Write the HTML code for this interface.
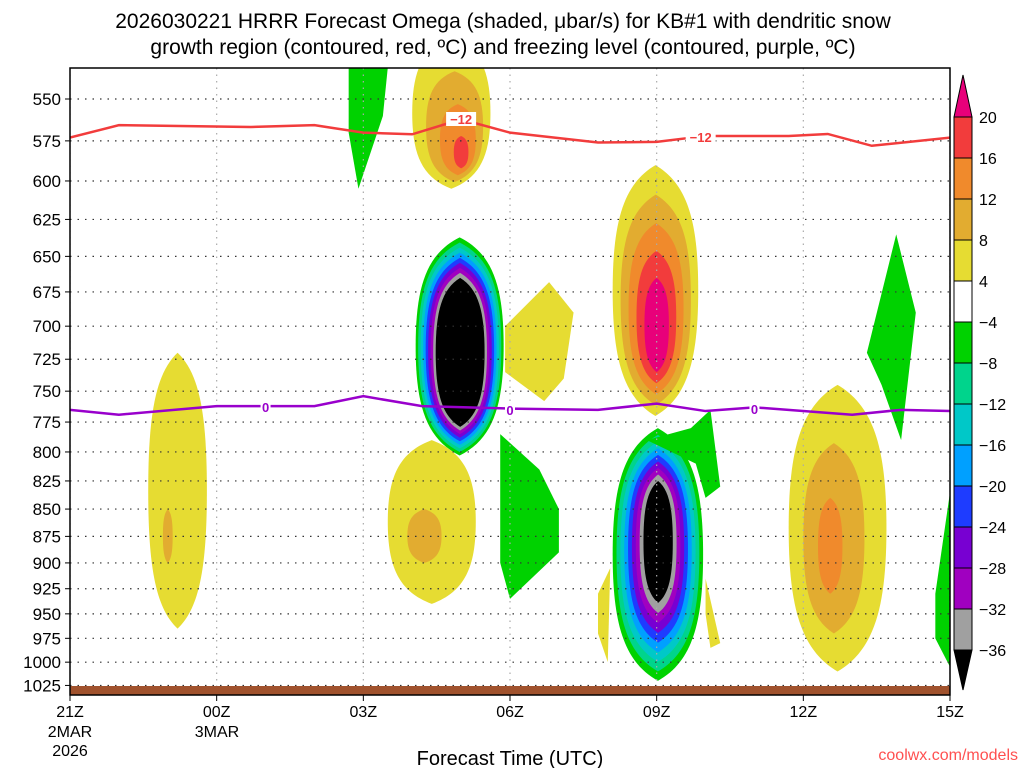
<!DOCTYPE html>
<html><head><meta charset="utf-8"><style>
body{margin:0;background:#fff;}
svg{display:block;font-family:"Liberation Sans",sans-serif;}
</style></head><body>
<svg id="c" width="1024" height="768" xmlns="http://www.w3.org/2000/svg"></svg>
<script>
// ---- data ----
const pressureTicks=[550,575,600,625,650,675,700,725,750,775,800,825,850,875,900,925,950,975,1000,1025];
const hourTicks=[0,3,6,9,12,15,18];
const hourLabels=["21Z","00Z","03Z","06Z","09Z","12Z","15Z"];
const cbLevels=["20","16","12","8","4","-4","-8","-12","-16","-20","-24","-28","-32","-36"];
const cbColors=["#f23c3c","#f08a2c","#e2ac30","#e6dc32","#ffffff","#00d200","#00d48c","#00c8c8","#00a0ff","#1e3cff","#7800d2","#a000c0","#a0a0a0"];
const negColors=["#00d200","#00d48c","#00c8c8","#00a0ff","#1e3cff","#7800d2","#a000c0","#a0a0a0","#000000"];
const posColors=["#e6dc32","#e2ac30","#f08a2c","#f23c3c","#e8007a"];
// nested features: outer [h0,h1,p0,p1], inner [h0,h1,p0,p1], sign, number of levels
const featOuter=[[7.07,8.87,637,803],[11.1,12.95,780,1020],[7.0,8.6,515,605],[11.1,12.85,590,770],[1.6,2.8,720,965],[6.5,8.3,790,940],[14.7,16.7,745,1010]];
const featInner=[[7.48,8.48,665,779],[11.73,12.33,825,939],[7.85,8.15,572,592],[11.75,12.25,665,735],[1.9,2.1,850,900],[6.9,7.6,850,900],[15.3,15.8,840,930]];
const featSign=[-1,-1,1,1,1,1,1];
const featLevels=[9,9,4,5,2,2,3];
// irregular polygons [h,p]
const polyPts=[
 [[8.8,785],[9.6,815],[10.0,850],[10.0,890],[9.0,935],[8.8,900],[8.8,840]],
 [[11.8,790],[12.7,780],[13.1,765],[13.3,830],[13.0,840],[12.8,810]],
 [[5.7,532],[6.5,532],[6.4,560],[5.9,605],[5.7,570]],
 [[16.3,720],[16.9,635],[17.3,690],[17.0,790],[16.6,745]],
 [[17.7,930],[18.0,835],[18.0,1005],[17.7,975]],
 [[8.9,700],[9.8,668],[10.3,690],[10.1,740],[9.7,758],[8.9,735]],
 [[10.8,930],[11.05,905],[11.0,1000],[10.8,970]],
 [[13.0,915],[13.3,980],[13.1,985],[13.0,950]]
];
const polyColor=["#00d200","#00d200","#00d200","#00d200","#00d200","#e6dc32","#e6dc32","#e6dc32"];
const redHours=[0,1,3.7,5,6,7,8,9,10.8,12,13,14.7,15.5,16.4,18];
const redP=[573,565.5,566.6,565.5,570,571,562,570,576,575.6,572,572,570.8,578,573];
const purpHours=[0,1,3,5,6,7.2,9,10.8,12,13,14,16,17,18];
const purpP=[765,769,762,762,754,762,764,765,760,766,763,769,765,766];
// ---- axes ----
const X0=70,X1=950,Y0=68,Y1=695;
const xs=h=>X0+h*(X1-X0)/18;
const ys=p=>99+942*Math.log(p/550);
const svg=document.getElementById('c');
const NS="http://www.w3.org/2000/svg";
function mk(t,a,parent){const e=document.createElementNS(NS,t);for(const k in a)e.setAttribute(k,a[k]);(parent||svg).appendChild(e);return e;}
const clip=mk('clipPath',{id:'pc'});mk('rect',{x:X0,y:Y0,width:X1-X0,height:Y1-Y0},clip);
const plot=mk('g',{'clip-path':'url(#pc)'});


// features
featOuter.forEach((o,i)=>{
 const inn=featInner[i],n=featLevels[i],cols=featSign[i]<0?negColors:posColors;
 for(let k=0;k<n;k++){
  const t=n>1?k/(n-1):0;
  const h0=o[0]+(inn[0]-o[0])*t,h1=o[1]+(inn[1]-o[1])*t,p0=o[2]+(inn[2]-o[2])*t,p1=o[3]+(inn[3]-o[3])*t;
  const x0=xs(h0),x1=xs(h1),y0=ys(p0),y1=ys(p1);
  const cx=(x0+x1)/2,cy=(y0+y1)/2,rx=(x1-x0)/2,ry=(y1-y0)/2;
  const d=`M${cx},${y0} C${cx+rx*0.75},${y0+ry*0.15} ${x1},${cy-ry*0.55} ${x1},${cy} C${x1},${cy+ry*0.55} ${cx+rx*0.75},${y1-ry*0.15} ${cx},${y1} C${cx-rx*0.75},${y1-ry*0.15} ${x0},${cy+ry*0.55} ${x0},${cy} C${x0},${cy-ry*0.55} ${cx-rx*0.75},${y0+ry*0.15} ${cx},${y0}Z`;
  const e=mk('path',{d,fill:cols[k]},plot);
  
  
 }
});
polyPts.forEach((pts,i)=>{
 const e=mk('polygon',{points:pts.map(q=>xs(q[0])+','+ys(q[1])).join(' '),fill:polyColor[i]},plot);
 
 
});
// grid
pressureTicks.forEach(p=>{const e=mk('line',{x1:X0,x2:X1,y1:ys(p),y2:ys(p),stroke:'#333','stroke-width':1.2,'stroke-dasharray':'1.5 6'},plot);
 
 });
hourTicks.forEach(h=>{const e=mk('line',{x1:xs(h),x2:xs(h),y1:Y0,y2:Y1,stroke:'#aaa','stroke-width':1.2,'stroke-dasharray':'1.5 5'},plot);
 
 });
// ground
const g=mk('rect',{x:X0,y:686,width:X1-X0,height:9,fill:'#a0522d'},plot);


// lines
const rl=mk('polyline',{points:redHours.map((h,i)=>xs(h)+','+ys(redP[i])).join(' '),fill:'none',stroke:'#f23c3c','stroke-width':2.5},plot);


const pl=mk('polyline',{points:purpHours.map((h,i)=>xs(h)+','+ys(purpP[i])).join(' '),fill:'none',stroke:'#9900cc','stroke-width':2.5},plot);


[[8,'−12',119,'#f23c3c'],[12.9,'−12',137,'#f23c3c'],[4,'0',407,'#9900cc'],[9,'0',410,'#9900cc'],[14,'0',409,'#9900cc']].forEach(l=>{
 const bg=mk('rect',{x:xs(l[0])-(l[1].length*5),y:l[2]-7,width:l[1].length*10,height:14,fill:'#fff'},plot);
 const t=mk('text',{x:xs(l[0]),y:l[2]+5,'text-anchor':'middle','font-size':13,'font-weight':'bold',fill:l[3]},plot);t.textContent=l[1];
 
 
});
// frame
const fr=mk('rect',{x:X0,y:Y0,width:X1-X0,height:Y1-Y0,fill:'none',stroke:'#000','stroke-width':1.5});


pressureTicks.forEach(p=>{
 const t=mk('text',{x:61,y:ys(p)+6,'text-anchor':'end','font-size':17},svg);t.textContent=p;
 
 
 mk('line',{x1:X0-5,x2:X0,y1:ys(p),y2:ys(p),stroke:'#000'});
});
hourTicks.forEach((h,i)=>{
 mk('line',{x1:xs(h),x2:xs(h),y1:Y1,y2:Y1+6,stroke:'#000'});
 const t=mk('text',{x:xs(h),y:717,'text-anchor':'middle','font-size':16},svg);t.textContent=hourLabels[i];
 
 
});
[["2MAR",70,737],["2026",70,756],["3MAR",217,737]].forEach(a=>{const t=mk('text',{x:a[1],y:a[2],'text-anchor':'middle','font-size':16});t.textContent=a[0];
 
 });
const xt=mk('text',{x:510,y:765,'text-anchor':'middle','font-size':20});xt.textContent='Forecast Time (UTC)';


const cr=mk('text',{x:1018,y:760,'text-anchor':'end','font-size':16,fill:'#ff5050'});cr.textContent='coolwx.com/models';


[["2026030221 HRRR Forecast Omega (shaded, μbar/s) for KB#1 with dendritic snow",28],["growth region (contoured, red, ºC) and freezing level (contoured, purple, ºC)",54]].forEach(a=>{
 const t=mk('text',{x:503,y:a[1],'text-anchor':'middle','font-size':21});t.textContent=a[0];
 
 });
// colorbar
const CBX=954,CBW=18,CBT=117,CBS=41;
const tri=mk('polygon',{points:`${CBX},${CBT} ${CBX+CBW},${CBT} ${CBX+CBW/2},75`,fill:'#e8007a',stroke:'#000'});


cbColors.forEach((c,i)=>{const r=mk('rect',{x:CBX,y:CBT+i*CBS,width:CBW,height:CBS,fill:c,stroke:'#000'});
 
 });
const bt=CBT+cbColors.length*CBS;
const tri2=mk('polygon',{points:`${CBX},${bt} ${CBX+CBW},${bt} ${CBX+CBW/2},690`,fill:'#000',stroke:'#000'});


cbLevels.forEach((l,i)=>{const t=mk('text',{x:979,y:CBT+i*CBS+6,'font-size':16});t.textContent=l.replace('-','−');
 
 });
</script>
</body></html>
